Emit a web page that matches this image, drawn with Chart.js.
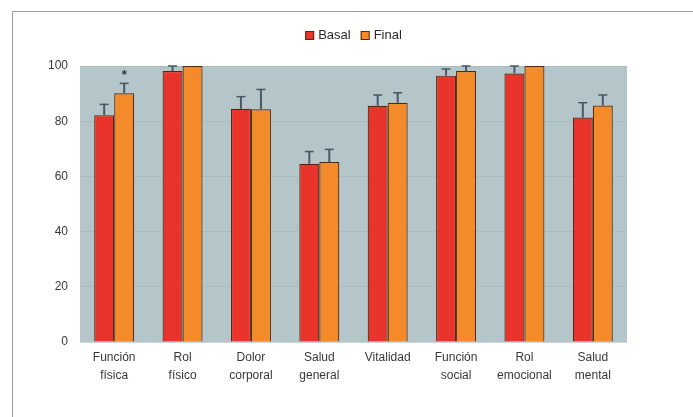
<!DOCTYPE html>
<html>
<head>
<meta charset="utf-8">
<script src="https://cdn.jsdelivr.net/npm/chart.js@4/dist/chart.umd.min.js"></script>
<style>
  html, body { margin: 0; padding: 0; background: #ffffff; }
  #wrap { position: relative; width: 693px; height: 417px; }
  canvas { display: block; }
</style>
</head>
<body>
<div id="wrap"><canvas id="c" width="693" height="417"></canvas></div>
<script>
// SF-36 dimension scores, baseline vs. final
const categories = [
  ['Función', 'física'], ['Rol', 'físico'], ['Dolor', 'corporal'], ['Salud', 'general'],
  ['Vitalidad'], ['Función', 'social'], ['Rol', 'emocional'], ['Salud', 'mental']
];
const basalValues = [82.2, 98.2, 84.5, 64.6, 85.6, 96.5, 97.3, 81.3];
const basalErrors = [3.9, 1.8, 4.4, 4.4, 3.9, 2.4, 2.7, 5.4];
const finalValues = [90.1, 100, 84.3, 65.2, 86.7, 98.2, 100, 85.7];
const finalErrors = [3.6, 0, 7.2, 4.6, 3.6, 1.8, 0, 3.8];
const significantCategory = 0;     // "Función física": final differs significantly
const yTicks = [0, 20, 40, 60, 80, 100];

const RED = '#e8342b';
const ORANGE = '#f38b2b';
const EDGE = '#5a2810';
const ERR = '#4a5766';
const TEXT = '#383838';
const FONT = '"Liberation Sans", Arial, sans-serif';

// Upper-only error whiskers plus the significance mark
const errorBars = {
  id: 'errorBars',
  afterDatasetsDraw(chart) {
    const ctx = chart.ctx;
    const y = chart.scales.y;
    ctx.save();
    chart.data.datasets.forEach((ds, di) => {
      const meta = chart.getDatasetMeta(di);
      meta.data.forEach((bar, i) => {
        const err = ds.errors[i];
        if (!err) return;
        const top = y.getPixelForValue(ds.data[i] + err);
        ctx.strokeStyle = ERR;
        ctx.lineWidth = 2;
        ctx.beginPath();
        ctx.moveTo(bar.x, bar.y);
        ctx.lineTo(bar.x, top);
        ctx.stroke();
        ctx.lineWidth = 1.5;
        ctx.beginPath();
        ctx.moveTo(bar.x - 4.5, top);
        ctx.lineTo(bar.x + 4.5, top);
        ctx.stroke();
      });
    });
    // asterisk over the significant final bar
    const fMeta = chart.getDatasetMeta(1);
    const b = fMeta.data[significantCategory];
    const ds = chart.data.datasets[1];
    const top = y.getPixelForValue(ds.data[significantCategory] + ds.errors[significantCategory]);
    ctx.fillStyle = '#2d3440';
    ctx.font = 'bold 13px ' + FONT;
    ctx.textAlign = 'center';
    ctx.textBaseline = 'middle';
    ctx.fillText('*', b.x, top - 8);
    ctx.restore();
  }
};

// Plot background, outer frame and centered legend
const decor = {
  id: 'decor',
  beforeDraw(chart) {
    const { ctx, chartArea: a } = chart;
    ctx.save();
    ctx.fillStyle = '#ffffff';
    ctx.fillRect(0, 0, chart.width, chart.height);
    ctx.strokeStyle = '#9a9a9a';
    ctx.lineWidth = 1;
    ctx.beginPath();
    ctx.moveTo(12.5, chart.height);
    ctx.lineTo(12.5, 11.5);
    ctx.lineTo(chart.width, 11.5);
    ctx.stroke();
    ctx.fillStyle = '#b5c6cb';
    ctx.fillRect(a.left, a.top, a.right - a.left, a.bottom - a.top);
    ctx.restore();
  },
  afterDraw(chart) {
    const { ctx, chartArea: a } = chart;
    ctx.save();
    ctx.font = '13px ' + FONT;
    ctx.textBaseline = 'middle';
    const items = chart.data.datasets.map(d => ({ label: d.label, color: d.backgroundColor }));
    const box = 9, gap = 4, between = 10;
    let total = 0;
    items.forEach((it, i) => {
      total += box + gap + ctx.measureText(it.label).width + (i < items.length - 1 ? between : 0);
    });
    let x = (a.left + a.right) / 2 - total / 2;
    const cy = 35.5;
    items.forEach(it => {
      ctx.fillStyle = it.color;
      ctx.fillRect(x, cy - box / 2, box, box);
      ctx.strokeStyle = EDGE;
      ctx.lineWidth = 1;
      ctx.strokeRect(x + 0.5, cy - box / 2 + 0.5, box - 1, box - 1);
      x += box + gap;
      ctx.fillStyle = '#2a2a2a';
      ctx.fillText(it.label, x, cy);
      x += ctx.measureText(it.label).width + between;
    });
    ctx.restore();
  }
};

new Chart(document.getElementById('c'), {
  type: 'bar',
  data: {
    labels: categories,
    datasets: [
      { label: 'Basal', data: basalValues, errors: basalErrors,
        backgroundColor: RED, borderColor: EDGE, borderWidth: 1.2 },
      { label: 'Final', data: finalValues, errors: finalErrors,
        backgroundColor: ORANGE, borderColor: EDGE, borderWidth: 1.2 }
    ]
  },
  options: {
    responsive: false,
    animation: false,
    devicePixelRatio: 1,
    layout: { padding: { top: 66, right: 66, left: 0, bottom: 0 } },
    datasets: { bar: { categoryPercentage: 0.585, barPercentage: 1.0 } },
    plugins: { legend: { display: false }, tooltip: { enabled: false } },
    scales: {
      x: {
        grid: { display: false, drawTicks: false },
        border: { display: false },
        ticks: { color: TEXT, font: { family: FONT, size: 12, lineHeight: 1.5 }, padding: 7, maxRotation: 0, autoSkip: false },
        afterFit(s) { s.height = 417 - 342; }
      },
      y: {
        min: 0, max: 100,
        afterBuildTicks(s) { s.ticks = yTicks.map(v => ({ value: v })); },
        grid: { color: 'rgba(160,178,184,0.55)', drawTicks: false, lineWidth: 1 },
        border: { display: false },
        ticks: { color: TEXT, font: { family: FONT, size: 12 }, padding: 12 },
        afterFit(s) { s.width = 80; }
      }
    }
  },
  plugins: [decor, errorBars]
});
</script>
</body>
</html>
